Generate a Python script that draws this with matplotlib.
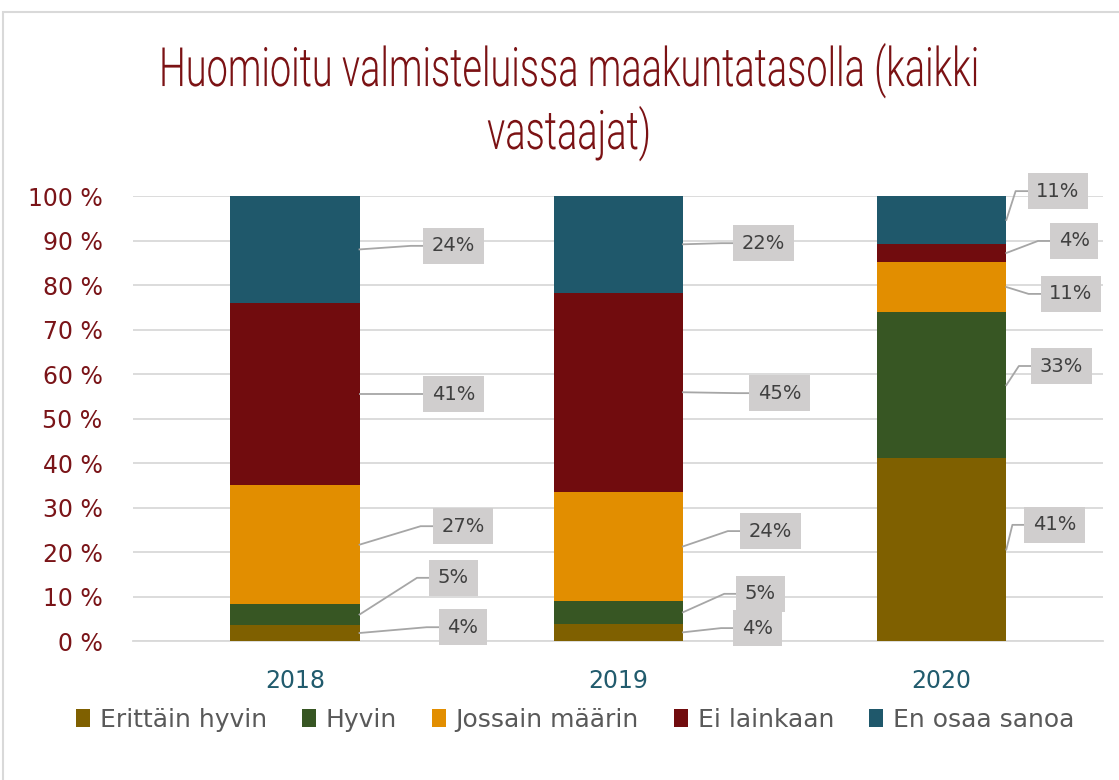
import numpy as np
import matplotlib
matplotlib.use("Agg")
import matplotlib.pyplot as plt
from matplotlib.patches import Rectangle
from matplotlib.patheffects import AbstractPathEffect
from matplotlib.transforms import Affine2D

# data (shares in %, each year sums to 100)
years = ["2018", "2019", "2020"]
series = ["Erittäin hyvin", "Hyvin", "Jossain määrin", "Ei lainkaan", "En osaa sanoa"]
erittain_hyvin = [3.6, 3.9, 41.1]
hyvin = [4.7, 5.1, 32.8]
jossain = [26.7, 24.5, 11.3]
ei_lainkaan = [41.0, 44.8, 4.0]
en_osaa = [24.0, 21.7, 10.8]
shown_labels = [[4, 5, 27, 41, 24], [4, 5, 24, 45, 22], [41, 33, 11, 4, 11]]
title_lines = ["Huomioitu valmisteluissa maakuntatasolla (kaikki", "vastaajat)"]

colors = ["#7F6000", "#375623", "#E28E00", "#710C0E", "#1F586B"]

# where the data label boxes sit: offset from bar centre (x) and height in % (y)
label_dx = [[0.52, 0.49, 0.52, 0.49, 0.49],
            [0.43, 0.44, 0.47, 0.50, 0.45],
            [0.35, 0.37, 0.40, 0.41, 0.36]]
label_y = [[3.1, 14.2, 25.8, 55.5, 88.8],
           [2.9, 10.6, 24.7, 55.7, 89.4],
           [26.1, 61.8, 78.0, 89.9, 101.1]]


class Condense(AbstractPathEffect):
    """Tall, narrow lettering: scale each text line about its centre/baseline."""
    def __init__(self, sx, sy):
        super().__init__()
        self.sx, self.sy = sx, sy

    def draw_path(self, renderer, gc, tpath, affine, rgbFace=None):
        ext = tpath.get_extents(affine)
        cx = (ext.x0 + ext.x1) / 2
        by = affine.transform((0, 0))[1]
        affine = affine + Affine2D().translate(-cx, -by).scale(self.sx, self.sy).translate(cx, by)
        renderer.draw_path(gc, tpath, affine, rgbFace)


plt.rcParams["font.family"] = ["DejaVu Sans"]

fig = plt.figure(figsize=(11.19, 7.80), dpi=100)
ax = fig.add_axes([0.119, 0.1782, 0.867, 0.5705])

values = np.array([erittain_hyvin, hyvin, jossain, ei_lainkaan, en_osaa])
x = np.arange(len(years))
width = 0.4
bottom = np.zeros(len(years))
for k, name in enumerate(series):
    ax.bar(x, values[k], width, bottom=bottom, color=colors[k], label=name, zorder=3)
    bottom += values[k]

ax.set_xlim(-0.5, 2.5)
ax.set_ylim(0, 100)
ax.set_yticks(np.arange(0, 101, 10))
ax.set_yticklabels([f"{v} %" for v in range(0, 101, 10)])
ax.set_xticks(x)
ax.set_xticklabels(years)
ax.tick_params(axis="y", length=0, pad=22, labelsize=17, labelcolor="#7A1418")
ax.tick_params(axis="x", length=0, pad=20, labelsize=17, labelcolor="#215B6D")
ax.grid(axis="y", color="#D9D9D9", lw=1.3, zorder=0)
for s in ["top", "right", "left"]:
    ax.spines[s].set_visible(False)
ax.spines["bottom"].set_color("#D9D9D9")
ax.spines["bottom"].set_linewidth(1.3)

# data labels in grey boxes
anns = []
for i in range(len(years)):
    bottoms = np.cumsum(values[:, i]) - values[:, i]
    for k in range(len(series)):
        mid = bottoms[k] + values[k, i] / 2
        t = ax.annotate(f"{shown_labels[i][k]}%", xy=(i + width / 2, mid),
                        xytext=(i + label_dx[i][k], label_y[i][k]),
                        ha="center", va="center", fontsize=14, color="#404040",
                        bbox=dict(boxstyle="square,pad=0.45", fc="#D0CECE", ec="none"),
                        zorder=5, annotation_clip=False)
        anns.append((t, i + width / 2, mid))

# title, two lines (baselines as in the reference)
titles = [fig.text(0.5085, yb, line, ha="center", va="baseline", fontsize=26,
                   family=["Roboto", "DejaVu Sans"], fontweight=300, color="#7B1214")
          for line, yb in zip(title_lines, [0.8897, 0.809])]

fig.canvas.draw()

# squeeze the title so the first line is about 820 px wide, letters 1.5x taller
sx = 820 / titles[0].get_window_extent().width
for t in titles:
    t.set_path_effects([Condense(sx, 1.5)])

# leader lines: bar edge -> elbow -> box
inv = ax.transData.inverted()
for t, x0, y0 in anns:
    bb = t.get_bbox_patch().get_window_extent()
    cy = (bb.y0 + bb.y1) / 2
    pts = np.array([ax.transData.transform((x0, y0)), (bb.x0 - 12, cy), (bb.x0, cy)])
    pts = inv.transform(pts)
    ax.plot(pts[:, 0], pts[:, 1], color="#A6A6A6", lw=1.3, zorder=4, clip_on=False)

ax.legend(loc="center", bbox_to_anchor=(0.514, 0.077), bbox_transform=fig.transFigure,
          ncol=5, frameon=False, fontsize=18, labelcolor="#595959",
          handlelength=0.55, handleheight=0.75, handletextpad=0.4, columnspacing=1.4)

fig.patches.append(Rectangle((0.003, -0.02), 1.1, 0.9846 + 0.02, transform=fig.transFigure,
                             fill=False, ec="#D9D9D9", lw=1.5))

fig.savefig("out.png", dpi=100)
